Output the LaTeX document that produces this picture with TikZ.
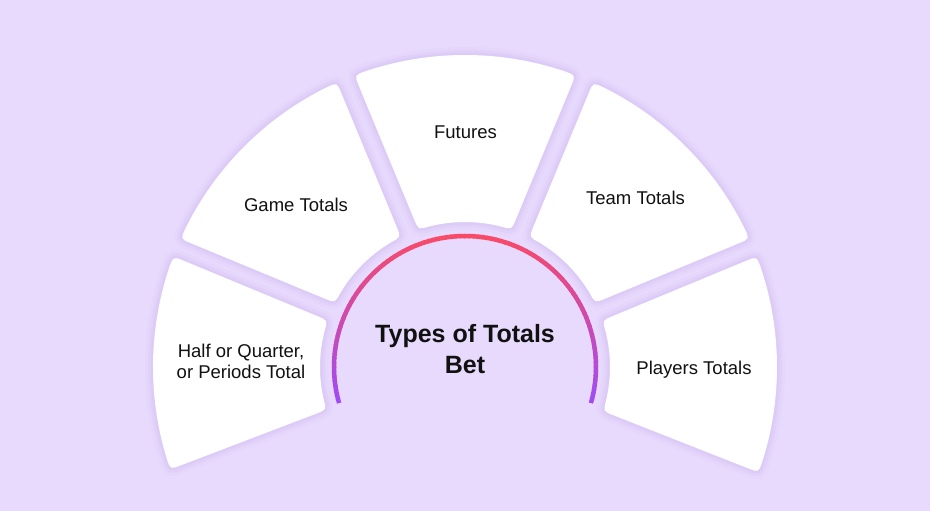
\documentclass[tikz,border=0pt]{standalone}
\usepackage{fontspec}
\setmainfont{Liberation Sans}
\usetikzlibrary{calc}
\definecolor{bgc}{HTML}{E8DAFD}
\definecolor{shc}{HTML}{B294E4}
\definecolor{arcA}{HTML}{F94A68}
\definecolor{arcB}{HTML}{A04BF7}
\definecolor{txt}{HTML}{111111}
\newcommand{\sectorshape}[3]{%
  \pgfmathsetmacro{\loO}{#2+asin(9.5/312)}%
  \pgfmathsetmacro{\hiO}{#3-asin(9.5/312)}%
  \pgfmathsetmacro{\loI}{#2+asin(9.5/145)}%
  \pgfmathsetmacro{\hiI}{#3-asin(9.5/145)}%
  \pgfmathsetmacro{\sA}{\loO+2.02}%
  \pgfmathsetmacro{\eA}{\hiO-2.02}%
  \pgfmathsetmacro{\sB}{\hiI-4.35}%
  \pgfmathsetmacro{\eB}{\loI+4.35}%
  \coordinate (P1) at (\loO:312pt);
  \coordinate (P2) at (\hiO:312pt);
  \coordinate (P3) at (\hiI:145pt);
  \coordinate (P4) at (\loI:145pt);
  \path[#1] (\sA:312pt) arc[start angle=\sA, end angle=\eA, radius=312pt]
    .. controls (P2) .. ($(P2)!11pt!(P3)$) -- ($(P3)!11pt!(P2)$)
    .. controls (P3) .. (\sB:145pt)
    arc[start angle=\sB, end angle=\eB, radius=145pt]
    .. controls (P4) .. ($(P4)!11pt!(P1)$) -- ($(P1)!11pt!(P4)$)
    .. controls (P1) .. (\sA:312pt) -- cycle;
}
\newcommand{\fullsector}[2]{%
  \sectorshape{draw=shc, draw opacity=0.05, line width=16pt, line join=round}{#1}{#2}
  \sectorshape{draw=shc, draw opacity=0.07, line width=10pt, line join=round}{#1}{#2}
  \sectorshape{draw=shc, draw opacity=0.09, line width=5pt, line join=round}{#1}{#2}
  \sectorshape{fill=white}{#1}{#2}
}
\tikzset{
  lbl/.style={text=txt, font=\fontsize{18.5}{21.5}\selectfont, align=center, inner sep=0pt},
  ttl/.style={text=txt, font=\bfseries\fontsize{25}{31}\selectfont, align=center, inner sep=0pt}
}
\begin{document}
\begin{tikzpicture}[x=1pt,y=1pt]
\fill[bgc] (0,0) rectangle (930,511);
\useasboundingbox (0,0) rectangle (930,511);
\begin{scope}[shift={(465,144)}]
  \fullsector{157.5}{200.9}
  \fullsector{112.5}{157.5}
  \fullsector{67.5}{112.5}
  \fullsector{22.5}{67.5}
  \fullsector{-21.5}{22.5}
  \foreach \a in {-16,-14,...,194} {
    \pgfmathsetmacro{\yy}{131*sin(\a+1)}
    \pgfmathtruncatemacro{\pc}{max(0,min(100,(131-\yy)/167*100))}
    \pgfmathsetmacro{\ea}{min(\a+2.4,196)}
    \colorlet{tmpc}{arcB!\pc!arcA}
    \draw[tmpc, line width=4.5pt] (\a:131pt) arc[start angle=\a, end angle=\ea, radius=131pt];
  }
\end{scope}
\node[ttl] (title) at (465,162) {Types of Totals\\Bet};
\node[lbl] (futures) at (465.5,378.5) {Futures};
\node[lbl] (game) at (296,306) {Game Totals};
\node[lbl] (team) at (635.5,313.5) {Team Totals};
\node[lbl] (players) at (694,141) {Players Totals};
\node[lbl] (half) at (241,149.5) {Half or Quarter,\\or Periods Total};
\end{tikzpicture}
\end{document}
